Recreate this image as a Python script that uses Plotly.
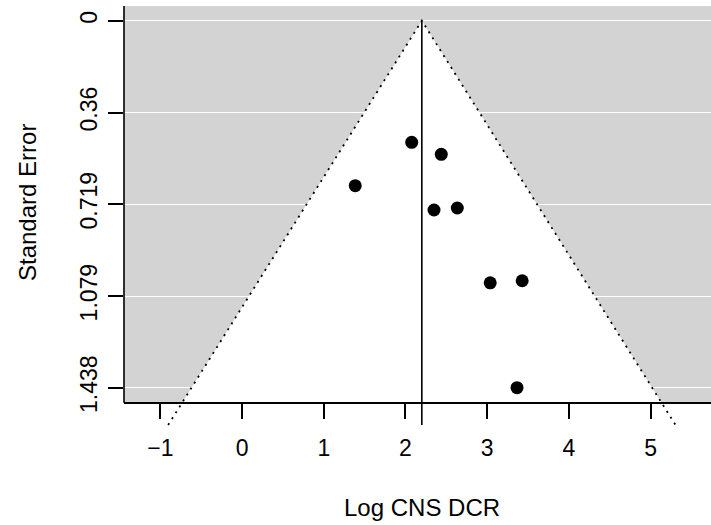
import plotly.graph_objects as go

# Study estimates (log CNS DCR) and their standard errors
log_dcr = [2.076, 2.438, 1.385, 2.349, 2.634, 3.037, 3.428, 3.365]
std_err = [0.4765, 0.5235, 0.6466, 0.7418, 0.7339, 1.027, 1.019, 1.438]

pooled = 2.2            # pooled estimate (reference line)
z_crit = 1.96           # 95% pseudo-confidence limits

x_ticks = [-1, 0, 1, 2, 3, 4, 5]
se_ticks = [0, 0.36, 0.719, 1.079, 1.438]
se_tick_text = ["0", "0.36", "0.719", "1.079", "1.438"]

# axis limits
x_lim = [-1.445, 5.739]
se_top = -0.0576        # top of plot region
se_axis = 1.4969        # where the x axis sits
se_ext = 1.584          # funnel / reference lines run slightly past the axis
se_bottom = 1.6038      # bottom of the drawing area

W, H = 711, 525
m_l, m_r, m_t, m_b = 124, 0, 6, 95
plot_h = H - m_t - m_b

axis_pos = (se_bottom - se_axis) / (se_bottom - se_top)

fig = go.Figure()

# white funnel region inside the grey background
fig.add_trace(go.Scatter(
    x=[pooled - z_crit * se_axis, pooled, pooled + z_crit * se_axis],
    y=[se_axis, 0, se_axis],
    fill="toself", fillcolor="white", mode="lines",
    line=dict(width=0, color="white"), hoverinfo="skip", showlegend=False,
))

# dotted funnel limits
fig.add_trace(go.Scatter(
    x=[pooled - z_crit * se_ext, pooled, pooled + z_crit * se_ext],
    y=[se_ext, 0, se_ext],
    mode="lines", line=dict(color="black", width=1.8, dash="2px,5px"),
    hoverinfo="skip", showlegend=False,
))

# vertical reference line at the pooled estimate
fig.add_trace(go.Scatter(
    x=[pooled, pooled], y=[0, se_ext],
    mode="lines", line=dict(color="black", width=1.6),
    hoverinfo="skip", showlegend=False,
))

# studies
fig.add_trace(go.Scatter(
    x=log_dcr, y=std_err, mode="markers",
    marker=dict(color="black", size=13, line=dict(width=0)),
    showlegend=False,
))

shapes = [
    # grey plot background
    dict(type="rect", xref="paper", yref="y", x0=0, x1=1, y0=se_top, y1=se_axis,
         fillcolor="#d3d3d3", line=dict(width=0), layer="below"),
    # left axis line (stops at the x axis)
    dict(type="line", xref="paper", yref="paper", x0=0, x1=0, y0=axis_pos, y1=1,
         line=dict(color="black", width=1.6)),
]

font = dict(family="Liberation Sans, Arial, Helvetica, sans-serif", color="black")

fig.update_layout(
    width=W, height=H,
    margin=dict(l=m_l, r=m_r, t=m_t, b=m_b),
    paper_bgcolor="white", plot_bgcolor="white",
    font=font,
    shapes=shapes,
    xaxis=dict(
        range=x_lim, anchor="free", position=axis_pos,
        tickvals=x_ticks, ticks="outside", ticklen=15, tickwidth=1.5, tickcolor="black",
        tickfont=dict(size=23), showline=True, linecolor="black", linewidth=1.6,
        showgrid=False, zeroline=False, ticklabelstandoff=10,
    ),
    yaxis=dict(
        range=[se_bottom, se_top],
        tickvals=se_ticks, ticktext=se_tick_text, tickangle=-90,
        ticks="outside", ticklen=15, tickwidth=1.5, tickcolor="black",
        tickfont=dict(size=23), showline=False, ticklabelstandoff=2,
        showgrid=True, gridcolor="white", gridwidth=1.2, zeroline=False,
    ),
    annotations=[
        dict(text="Log CNS DCR", xref="paper", yref="paper",
             x=(421.5 - m_l) / (W - m_l - m_r), y=(H - m_b - 507) / plot_h,
             xanchor="center", yanchor="middle", showarrow=False,
             font=dict(size=24)),
        dict(text="Standard Error", xref="paper", yref="paper",
             x=(27 - m_l) / (W - m_l - m_r), y=(H - m_b - 203) / plot_h,
             xanchor="center", yanchor="middle", textangle=-90, showarrow=False,
             font=dict(size=24)),
    ],
)

fig.write_html("out.html")
